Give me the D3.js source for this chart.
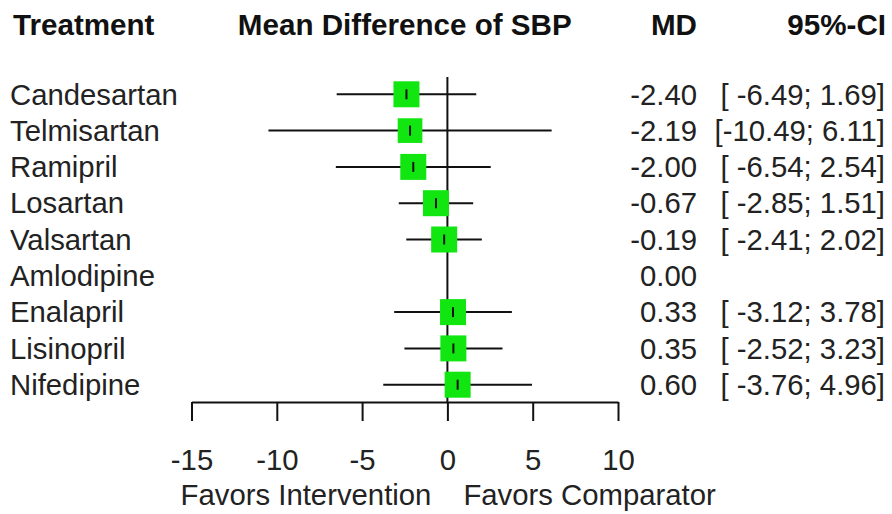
<!DOCTYPE html>
<html>
<head>
	<meta charset="UTF-8">
	<title>Mean Difference of SBP</title>
	<style>
		body { margin: 0; background: white; }
		svg { font-family: "Liberation Sans", Arial, sans-serif; }
		.head { font-weight: bold; font-size: 29.6px; fill: #111; }
		.lab { font-size: 29.3px; fill: #222; white-space: pre; }
		.tick-lab { font-size: 29.3px; fill: #222; }
	</style>
	<script src="https://d3js.org/d3.v7.min.js"></script>
</head>
<body>
<svg id="chart" width="892" height="514"></svg>
<script>

	// data
	let treatments = ["Candesartan", "Telmisartan", "Ramipril", "Losartan", "Valsartan",
	                  "Amlodipine", "Enalapril", "Lisinopril", "Nifedipine"];
	let md    = [-2.40, -2.19, -2.00, -0.67, -0.19, 0.00, 0.33, 0.35, 0.60];
	let lower = [-6.49, -10.49, -6.54, -2.85, -2.41, null, -3.12, -2.52, -3.76];
	let upper = [1.69, 6.11, 2.54, 1.51, 2.02, null, 3.78, 3.23, 4.96];
	let weight = [1, 0.9, 1, 1, 1, null, 1, 1, 1];
	let xTicks = [-15, -10, -5, 0, 5, 10];

	let rows = treatments.map((t, i) => ({
		name: t, md: md[i], lo: lower[i], hi: upper[i], w: weight[i]
	}));

	// plain hyphen for minus, like the R output
	let loc = d3.formatLocale({decimal: ".", thousands: ",", grouping: [3], currency: ["", ""], minus: "-"});
	let f2 = loc.format(".2f");
	let fd = loc.format("d");

	let svg = d3.select("#chart");

	let x = d3.scaleLinear().domain([-15, 10]).range([191.5, 618]);
	let y = d3.scalePoint().domain(treatments).range([94.3, 384.7]);
	let box = d3.scaleSqrt().domain([0, 1]).range([0, 26]);

	let axisY = 402;

	// headers
	svg.append("text").attr("class", "head").attr("x", 13).attr("y", 35).text("Treatment");
	svg.append("text").attr("class", "head").attr("x", (x(-15) + x(10)) / 2).attr("y", 35)
		.attr("text-anchor", "middle").text("Mean Difference of SBP");
	svg.append("text").attr("class", "head").attr("x", 697).attr("y", 35)
		.attr("text-anchor", "end").text("MD");
	svg.append("text").attr("class", "head").attr("x", 886).attr("y", 35)
		.attr("text-anchor", "end").text("95%-CI");

	// reference line at zero
	svg.append("line")
		.attr("x1", x(0)).attr("x2", x(0))
		.attr("y1", 77).attr("y2", axisY)
		.attr("stroke", "#111").attr("stroke-width", 2);

	let g = svg.append("g").selectAll("g")
		.data(rows)
		.join("g");

	// whiskers
	g.filter(d => d.lo != null)
		.append("line")
		.attr("x1", d => x(d.lo)).attr("x2", d => x(d.hi))
		.attr("y1", d => y(d.name)).attr("y2", d => y(d.name))
		.attr("stroke", "#111").attr("stroke-width", 2);

	// boxes
	g.filter(d => d.w != null)
		.append("rect")
		.attr("x", d => x(d.md) - box(d.w) / 2)
		.attr("y", d => y(d.name) - box(d.w) / 2)
		.attr("width", d => box(d.w))
		.attr("height", d => box(d.w))
		.attr("fill", "#11e611");

	// mean ticks
	g.filter(d => d.w != null)
		.append("line")
		.attr("x1", d => x(d.md)).attr("x2", d => x(d.md))
		.attr("y1", d => y(d.name) - 5).attr("y2", d => y(d.name) + 5)
		.attr("stroke", "#111").attr("stroke-width", 2);

	// text columns
	g.append("text").attr("class", "lab")
		.attr("x", 10).attr("y", d => y(d.name)).attr("dy", "0.35em")
		.text(d => d.name);

	g.append("text").attr("class", "lab")
		.attr("x", 697).attr("y", d => y(d.name)).attr("dy", "0.35em")
		.attr("text-anchor", "end")
		.text(d => f2(d.md));

	g.filter(d => d.lo != null)
		.append("text").attr("class", "lab")
		.attr("x", 885).attr("y", d => y(d.name)).attr("dy", "0.35em")
		.attr("text-anchor", "end")
		.text(d => "[" + f2(d.lo).padStart(6, " ") + "; " + f2(d.hi) + "]");

	// x axis
	let axis = svg.append("g").attr("transform", "translate(0," + axisY + ")");
	axis.call(d3.axisBottom(x).tickValues(xTicks).tickSize(19).tickSizeOuter(0).tickFormat(fd));
	axis.select(".domain").attr("stroke", "#111").attr("stroke-width", 2);
	axis.selectAll(".tick line").attr("stroke", "#111").attr("stroke-width", 2);
	axis.selectAll(".tick text")
		.attr("class", "tick-lab")
		.attr("y", 68).attr("dy", 0)
		.style("font-family", "'Liberation Sans', Arial, sans-serif");
	axis.attr("font-size", null);

	// direction labels
	svg.append("text").attr("class", "lab").attr("x", x(0) - 16).attr("y", 505)
		.attr("text-anchor", "end").text("Favors Intervention");
	svg.append("text").attr("class", "lab").attr("x", x(0) + 16).attr("y", 505)
		.text("Favors Comparator");

</script>
</body>
</html>
